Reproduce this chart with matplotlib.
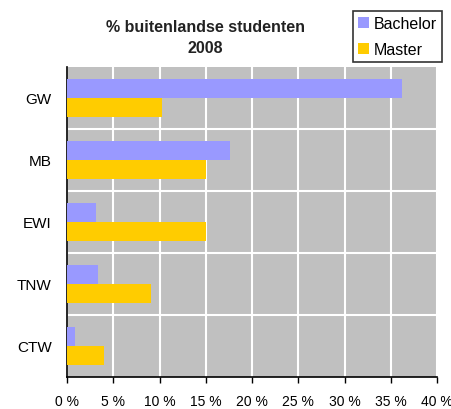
import numpy as np
import matplotlib
matplotlib.use("Agg")
import matplotlib.pyplot as plt
from matplotlib.ticker import MultipleLocator, FuncFormatter

plt.rcParams["font.family"] = ["Liberation Sans", "DejaVu Sans"]

categories = ["GW", "MB", "EWI", "TNW", "CTW"]
bachelor = [36.2, 17.6, 3.1, 3.4, 0.9]
master = [10.3, 15.0, 15.0, 9.1, 4.0]

BACHELOR_COLOR = "#9999FF"
MASTER_COLOR = "#FFCC00"
PLOT_BG = "#C0C0C0"

fig = plt.figure(figsize=(4.51, 4.10), dpi=100)
ax = fig.add_axes([67 / 451, 1 - 378 / 410, 370 / 451, 310 / 410])
ax.set_facecolor(PLOT_BG)

y = np.arange(len(categories))
h = 0.3
ax.barh(y - h / 2, bachelor, height=h, color=BACHELOR_COLOR, zorder=3, label="Bachelor")
ax.barh(y + h / 2, master, height=h, color=MASTER_COLOR, zorder=3, label="Master")

ax.set_xlim(0, 40)
ax.set_ylim(len(categories) - 0.5, -0.5)
ax.xaxis.set_major_locator(MultipleLocator(5))
ax.xaxis.set_major_formatter(FuncFormatter(lambda v, p: f"{v:.0f} %"))
ax.set_yticks(y)
ax.set_yticklabels(categories)
ax.set_yticks(np.arange(len(categories) - 1) + 0.5, minor=True)

ax.grid(axis="x", which="major", color="white", linewidth=1.5, zorder=1)
ax.grid(axis="y", which="minor", color="white", linewidth=1.5, zorder=1)
ax.tick_params(axis="y", which="both", length=0, labelsize=11, pad=11)
ax.tick_params(axis="x", length=4, width=1, labelsize=10, pad=8)

for side in ["top", "right"]:
    ax.spines[side].set_visible(False)
for side in ["left", "bottom"]:
    ax.spines[side].set_color("black")
    ax.spines[side].set_linewidth(1.2)

fig.text(205 / 451, 1 - 38 / 410, "% buitenlandse studenten\n2008", ha="center", va="center",
         fontsize=11.5, fontweight="bold", color="#222222", linespacing=1.45)

leg = fig.legend(loc="upper right", bbox_to_anchor=(450 / 451, 1 - 4 / 410), frameon=True,
                 fancybox=False, edgecolor="black", fontsize=11.5, handlelength=0.7,
                 handleheight=0.7, handletextpad=0.3, borderpad=0.3, labelspacing=0.7)
leg.get_frame().set_linewidth(1.2)

fig.savefig("out.png", dpi=100, facecolor="white")
